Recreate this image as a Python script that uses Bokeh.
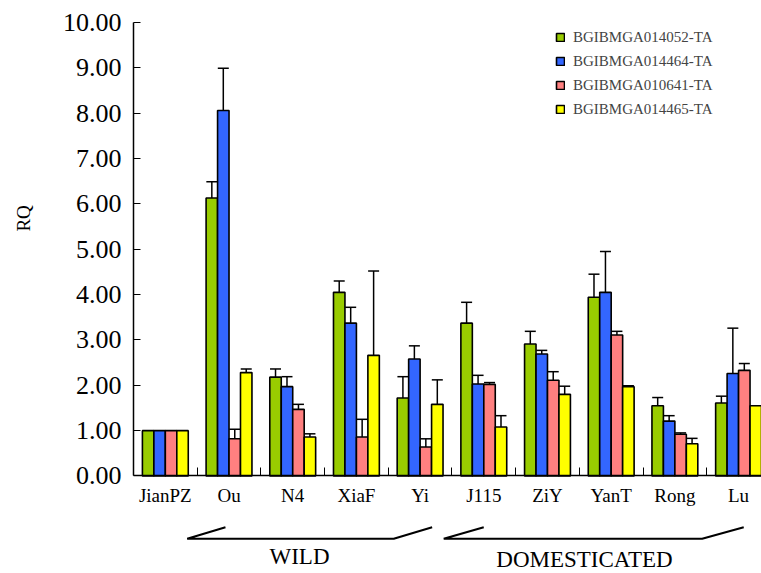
from bokeh.plotting import figure
from bokeh.models import Range1d, FixedTicker, Whisker, ColumnDataSource, Legend, LegendItem, Label, TeeHead
from bokeh.embed import file_html
from bokeh.resources import INLINE

categories = ["JianPZ", "Ou", "N4", "XiaF", "Yi", "J115", "ZiY", "YanT", "Rong", "Lu"]
series_names = ["BGIBMGA014052-TA", "BGIBMGA014464-TA", "BGIBMGA010641-TA", "BGIBMGA014465-TA"]
series_colors = ["#99CC00", "#3366FF", "#FF8080", "#FFFF00"]

rq_014052 = [1.00, 6.13, 2.18, 4.05, 1.72, 3.37, 2.91, 3.94, 1.55, 1.61]
err_014052 = [0.00, 0.36, 0.18, 0.25, 0.47, 0.46, 0.28, 0.51, 0.18, 0.15]
rq_014464 = [1.00, 8.06, 1.97, 3.37, 2.58, 2.03, 2.69, 4.05, 1.21, 2.26]
err_014464 = [0.00, 0.93, 0.22, 0.35, 0.29, 0.19, 0.08, 0.90, 0.12, 1.00]
rq_010641 = [1.00, 0.82, 1.47, 0.86, 0.64, 2.02, 2.11, 3.11, 0.92, 2.33]
err_010641 = [0.00, 0.21, 0.11, 0.39, 0.18, 0.04, 0.19, 0.08, 0.03, 0.15]
rq_014465 = [1.00, 2.28, 0.86, 2.66, 1.58, 1.08, 1.80, 1.97, 0.71, 1.55]
err_014465 = [0.00, 0.08, 0.07, 1.86, 0.54, 0.25, 0.18, 0.02, 0.12, 0.00]

y_ticks = [0, 1, 2, 3, 4, 5, 6, 7, 8, 9, 10]
y_tick_labels = ["0.00", "1.00", "2.00", "3.00", "4.00", "5.00", "6.00", "7.00", "8.00", "9.00", "10.00"]

group_labels = ["WILD", "DOMESTICATED"]

values = [rq_014052, rq_014464, rq_010641, rq_014465]
errors = [err_014052, err_014464, err_010641, err_014465]

SERIF = "Liberation Serif"
BAR_W = 0.18
offsets = [-0.27, -0.09, 0.09, 0.27]
X_END = 9.86

p = figure(width=761, height=573, x_range=Range1d(-2.088, X_END), y_range=Range1d(-2.150, 10.485),
           output_backend="svg", toolbar_location=None,
           min_border_left=0, min_border_right=0, min_border_top=0, min_border_bottom=0)
p.outline_line_color = None
p.xgrid.visible = False
p.ygrid.visible = False
p.background_fill_color = "white"

centers = [i + 0.5 for i in range(len(categories))]
renderers = []
for j in range(4):
    xs = [c + offsets[j] for c in centers]
    src = ColumnDataSource(dict(x=xs, top=values[j]))
    r = p.vbar(x="x", top="top", width=BAR_W, source=src, fill_color=series_colors[j],
               line_color="black", line_width=1.6)
    renderers.append(r)

for j in range(4):
    xs, up, lo = [], [], []
    for i, c in enumerate(centers):
        if errors[j][i] > 0:
            xs.append(c + offsets[j])
            up.append(values[j][i] + errors[j][i])
            lo.append(values[j][i] - errors[j][i])
    wsrc = ColumnDataSource(dict(base=xs, upper=up, lower=lo))
    w = Whisker(base="base", upper="upper", lower="lower", source=wsrc, dimension="height",
                line_color="black", line_width=1.5,
                upper_head=TeeHead(size=11, line_color="black", line_width=1.5),
                lower_head=TeeHead(size=11, line_color="black", line_width=1.5))
    p.add_layout(w)

# axes
xa = p.xaxis[0]
xa.fixed_location = 0
xa.bounds = (0, X_END)
xa.ticker = FixedTicker(ticks=centers, minor_ticks=[float(i) for i in range(1, 10)])
xa.major_label_overrides = {c: n for c, n in zip(centers, categories)}
xa.major_tick_line_color = None
xa.minor_tick_in = 8
xa.minor_tick_out = 0
xa.minor_tick_line_color = "black"
xa.minor_tick_line_width = 1
xa.axis_line_color = "black"
xa.axis_line_width = 1.5
xa.major_label_text_font = SERIF
xa.major_label_text_font_size = "19px"
xa.major_label_text_color = "black"
xa.major_label_standoff = 3

ya = p.yaxis[0]
ya.fixed_location = 0
ya.bounds = (0, 10)
ya.ticker = FixedTicker(ticks=y_ticks, minor_ticks=[])
ya.major_label_overrides = {t: s for t, s in zip(y_ticks, y_tick_labels)}
ya.major_tick_in = 7
ya.major_tick_out = 0
ya.major_tick_line_color = "black"
ya.axis_line_color = "black"
ya.axis_line_width = 1.5
ya.major_label_text_font = SERIF
ya.major_label_text_font_size = "26px"
ya.major_label_text_color = "black"
ya.major_label_standoff = 12

p.add_layout(Label(x=-1.727, y=5.68, text="RQ", angle=90, angle_units="deg",
                   text_align="center", text_baseline="middle",
                   text_font=SERIF, text_font_size="19px", text_color="black"))

# group brackets
br_xs = [[1.444, 0.843, 4.086, 4.689], [5.499, 4.871, 8.928, 9.581]]
br_ys = [[-1.129, -1.385, -1.385, -1.129], [-1.129, -1.385, -1.385, -1.129]]
p.multi_line(xs=br_xs, ys=br_ys, line_color="black", line_width=2)

p.add_layout(Label(x=2.606, y=-1.775, text=group_labels[0], text_align="center",
                   text_baseline="middle", text_font=SERIF, text_font_size="23px", text_color="black"))
p.add_layout(Label(x=7.08, y=-1.84, text=group_labels[1], text_align="center",
                   text_baseline="middle", text_font=SERIF, text_font_size="23px", text_color="black"))

legend = Legend(items=[LegendItem(label=n, renderers=[r]) for n, r in zip(series_names, renderers)],
                location=(555, 454), padding=0, spacing=4, label_height=20,
                glyph_height=10, glyph_width=10, label_standoff=8,
                label_text_font=SERIF, label_text_font_size="15px",
                border_line_color=None, background_fill_alpha=0)
p.add_layout(legend)

open("out.html", "w").write(file_html(p, INLINE))
